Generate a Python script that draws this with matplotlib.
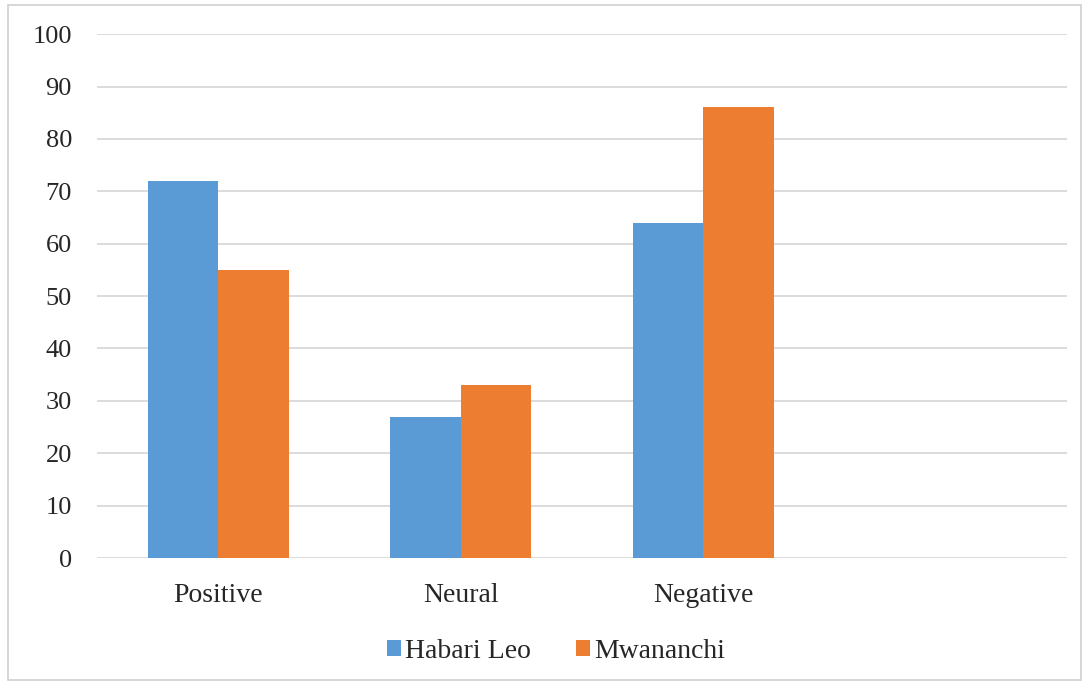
import numpy as np
import matplotlib.pyplot as plt
from matplotlib.patches import Rectangle

categories = ['Positive', 'Neural', 'Negative']
habari_leo = [72, 27, 64]
mwananchi = [55, 33, 86]

plt.rcParams['font.family'] = ['Liberation Serif', 'DejaVu Serif']

fig = plt.figure(figsize=(10.86, 6.83), dpi=100)
ax = fig.add_axes([0.0893, 0.183, 0.8932, 0.767])

x = np.arange(len(categories))
w = 0.29
ax.bar(x - w / 2, habari_leo, w, color='#5B9BD5', label='Habari Leo', zorder=3)
ax.bar(x + w / 2, mwananchi, w, color='#ED7D31', label='Mwananchi', zorder=3)

ax.set_xlim(-0.5, 3.5)
ax.set_ylim(0, 100)
ax.set_yticks(range(0, 101, 10))
ax.set_xticks(x)
ax.set_xticklabels(categories, fontsize=20, color='#262626')
ax.tick_params(axis='y', labelsize=19, colors='#262626', length=0, pad=18)
ax.tick_params(axis='x', length=0, pad=18)
ax.yaxis.grid(True, color='#D9D9D9', linewidth=1.3, zorder=0)
for s in ax.spines.values():
    s.set_visible(False)

leg = fig.legend(loc='center', bbox_to_anchor=(0.512, 0.046), ncol=2, frameon=False,
                 fontsize=20, handlelength=0.5, handleheight=0.5, handletextpad=0.15,
                 columnspacing=1.6)
for t in leg.get_texts():
    t.set_color('#262626')

fig.patches.append(Rectangle((0.007, 0.005), 0.988, 0.988, transform=fig.transFigure,
                             fill=False, edgecolor='#D0D0D0', linewidth=1.2))

fig.savefig('out.png', dpi=100)
